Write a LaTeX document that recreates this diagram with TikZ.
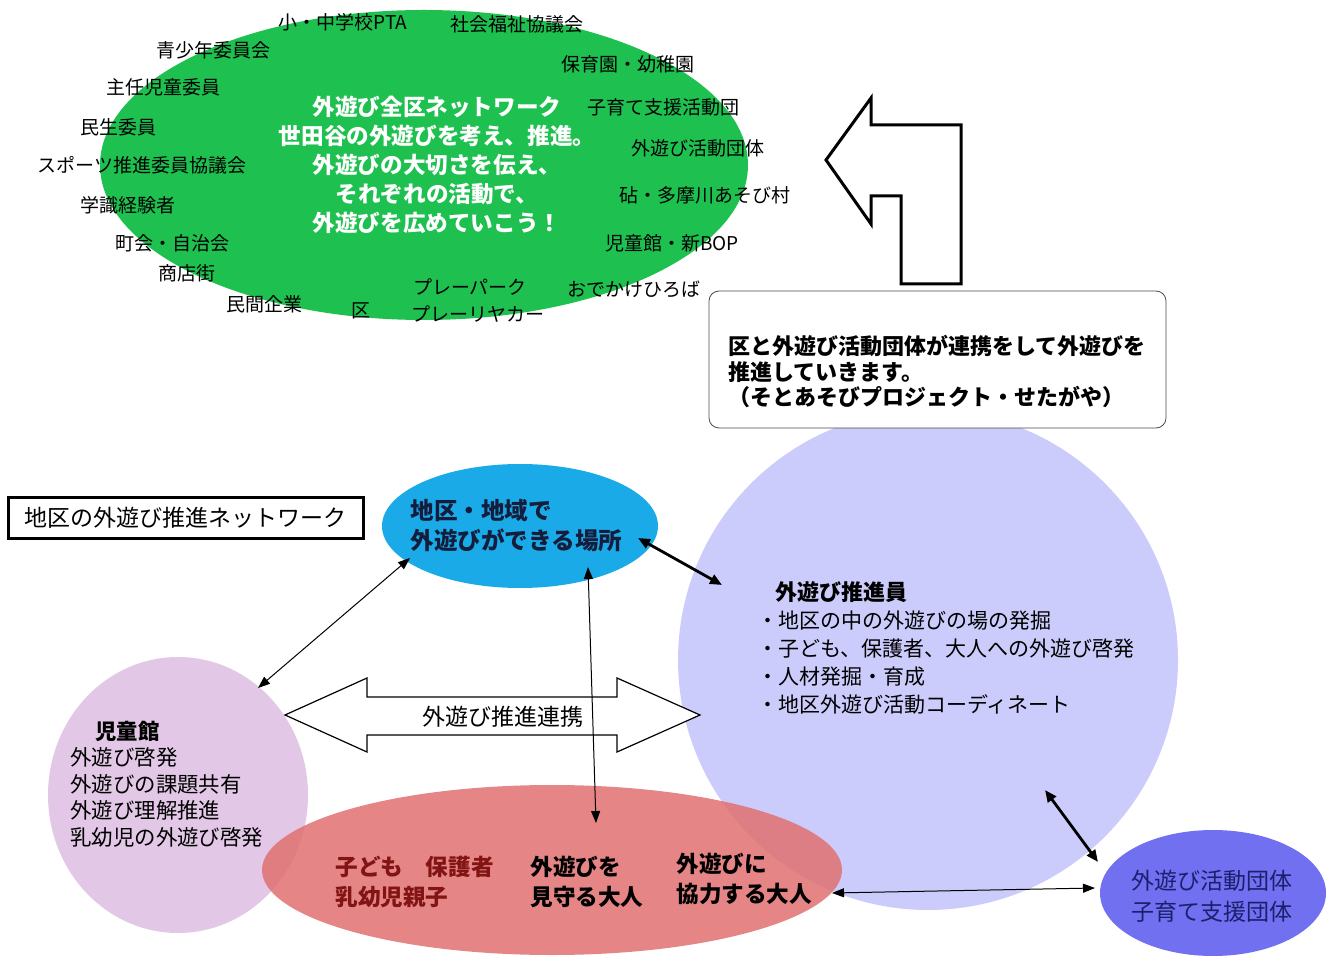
\documentclass[tikz,border=0pt]{standalone}
\usepackage{fontspec}
\setmainfont{Noto Sans CJK JP}
\usetikzlibrary{arrows.meta,shapes.geometric,calc}
\definecolor{netgreen}{RGB}{30,192,80}
\definecolor{suisin}{RGB}{204,204,252}
\definecolor{kanpink}{RGB}{226,200,230}
\definecolor{oyared}{RGB}{224,112,112}
\definecolor{basho}{RGB}{27,170,232}
\definecolor{dantaiblue}{RGB}{112,112,240}
\definecolor{kidsred}{RGB}{130,20,20}
\definecolor{dantaitext}{RGB}{30,30,110}
\begin{document}
\begin{tikzpicture}[x=0.5pt,y=-0.5pt,
  lbl/.style={font=\fontsize{9.5}{11}\selectfont, inner sep=0pt},
  blob/.style={ellipse, inner sep=0pt},
  txt/.style={anchor=west, inner sep=0pt, align=left},
  thinarr/.style={line width=0.5pt, {Triangle[length=6pt,width=4.5pt]}-{Triangle[length=6pt,width=4.5pt]}},
  thickarr/.style={line width=1.4pt, {Triangle[length=6pt,width=5pt]}-{Triangle[length=6pt,width=5pt]}}]
\useasboundingbox (0,0) rectangle (1337,956);

\node[blob, fill=netgreen, minimum width=324pt, minimum height=155pt] (zenku) at (424,165) {};
\node[inner sep=0pt, align=center, text=white, font=\fontsize{11.3}{14.5}\selectfont\bfseries] (zenkutext) at (437,165)
  {外遊び全区ネットワーク\\世田谷の外遊びを考え、推進。\\外遊びの大切さを伝え、\\それぞれの活動で、\\外遊びを広めていこう！};

\node[lbl] (pta) at (343,22) {小・中学校PTA};
\node[lbl] (shakyo) at (517,24) {社会福祉協議会};
\node[lbl] (seishonen) at (213,50) {青少年委員会};
\node[lbl] (hoiku) at (628,64) {保育園・幼稚園};
\node[lbl] (shunin) at (163,87) {主任児童委員};
\node[lbl] (kosodate) at (663,107) {子育て支援活動団};
\node[lbl] (minsei) at (118,127) {民生委員};
\node[lbl] (katsudo) at (698,148) {外遊び活動団体};
\node[lbl] (sports) at (142,165) {スポーツ推進委員協議会};
\node[lbl] (kinuta) at (705,195) {砧・多摩川あそび村};
\node[lbl] (gakushiki) at (128,205) {学識経験者};
\node[lbl] (bop) at (672,243) {児童館・新BOP};
\node[lbl] (chokai) at (172,243) {町会・自治会};
\node[lbl] (shotengai) at (187,273) {商店街};
\node[lbl] (playpark) at (470,287) {プレーパーク};
\node[lbl] (odekake) at (634,289) {おでかけひろば};
\node[lbl] (minkan) at (264,304) {民間企業};
\node[lbl] (ku) at (361,311) {区};
\node[lbl] (playcar) at (478,314) {プレーリヤカー};

\draw[line width=1.5pt, fill=white] (826,160) -- (871,98) -- (871,125) -- (961,125) -- (961,284)
  -- (901,284) -- (901,196) -- (871,196) -- (871,224) -- cycle;

\node[circle, fill=suisin, minimum size=250pt, inner sep=0pt] (suishinin) at (928,660) {};
\node[draw=black!70, fill=white, rounded corners=5pt, minimum width=228.5pt, minimum height=68.5pt, inner sep=0pt] (note) at (937.5,359.5) {};
\node[txt, font=\fontsize{11}{12.75}\selectfont\bfseries] (notetext) at (728,371.5)
  {区と外遊び活動団体が連携をして外遊びを\\推進していきます。\\（そとあそびプロジェクト・せたがや）};

\node[draw, line width=1.5pt, minimum width=177.5pt, minimum height=20.5pt, inner sep=0pt,
  font=\fontsize{11.5}{13}\selectfont] (title) at (185.5,517.5) {地区の外遊び推進ネットワーク};

\node[blob, fill=kanpink, minimum width=130pt, minimum height=138pt] (kan) at (178,795) {};
\node[blob, fill=oyared, fill opacity=0.85, minimum width=290pt, minimum height=85pt] (oyako) at (552,870) {};
\node[blob, fill=basho, minimum width=138pt, minimum height=62pt] (basho) at (520,526) {};
\node[blob, fill=dantaiblue, minimum width=113pt, minimum height=63pt] (dantai) at (1213,893) {};

\draw[line width=0.6pt, fill=white] (285,715) -- (367,678) -- (367,697) -- (617,697) -- (617,678) -- (700,715)
  -- (617,752) -- (617,735) -- (367,735) -- (367,752) -- cycle;
\node[inner sep=0pt, font=\fontsize{11.5}{13}\selectfont] (renkei) at (503,717) {外遊び推進連携};

\node[txt, font=\fontsize{11.8}{15}\selectfont\bfseries, text={rgb,255:red,20;green,30;blue,60}] (bashotext) at (410,526)
  {地区・地域で\\外遊びができる場所};
\node[txt, font=\fontsize{11}{13}\selectfont\bfseries] (suishintitle) at (775,592) {外遊び推進員};
\node[txt, font=\fontsize{10.5}{14}\selectfont] (suishintext) at (757,663)
  {・地区の中の外遊びの場の発掘\\・子ども、保護者、大人への外遊び啓発\\・人材発掘・育成\\・地区外遊び活動コーディネート};
\node[txt, font=\fontsize{10.7}{13}\selectfont\bfseries] (kantitle) at (95,731) {児童館};
\node[txt, font=\fontsize{10.7}{13.25}\selectfont] (kantext) at (70,797.5)
  {外遊び啓発\\外遊びの課題共有\\外遊び理解推進\\乳幼児の外遊び啓発};
\node[txt, font=\fontsize{11.3}{15}\selectfont\bfseries, text=kidsred] (kids) at (335,882) {子ども　保護者\\乳幼児親子};
\node[txt, font=\fontsize{11.3}{15}\selectfont\bfseries] (mimamoru) at (530,882) {外遊びを\\見守る大人};
\node[txt, font=\fontsize{11.3}{15}\selectfont\bfseries] (kyoryoku) at (676,879) {外遊びに\\協力する大人};
\node[inner sep=0pt, align=left, text=dantaitext, font=\fontsize{11.5}{15.5}\selectfont] (dantaitext) at (1212,896)
  {外遊び活動団体\\子育て支援団体};

\draw[thinarr] ($(basho.center)+(-110,32)$) -- ($(kan.center)+(80,-107)$);
\draw[thinarr] ($(basho.center)+(68,41)$) -- ($(oyako.center)+(44,-47)$);
\draw[thickarr] ($(basho.center)+(118,12)$) -- ($(suishinin.center)+(-206,-75)$);
\draw[thickarr] ($(suishinin.center)+(117,130)$) -- ($(dantai.center)+(-115,-31)$);
\draw[thinarr] ($(oyako.center)+(280,23)$) -- ($(dantai.center)+(-118,-5)$);
\end{tikzpicture}
\end{document}
